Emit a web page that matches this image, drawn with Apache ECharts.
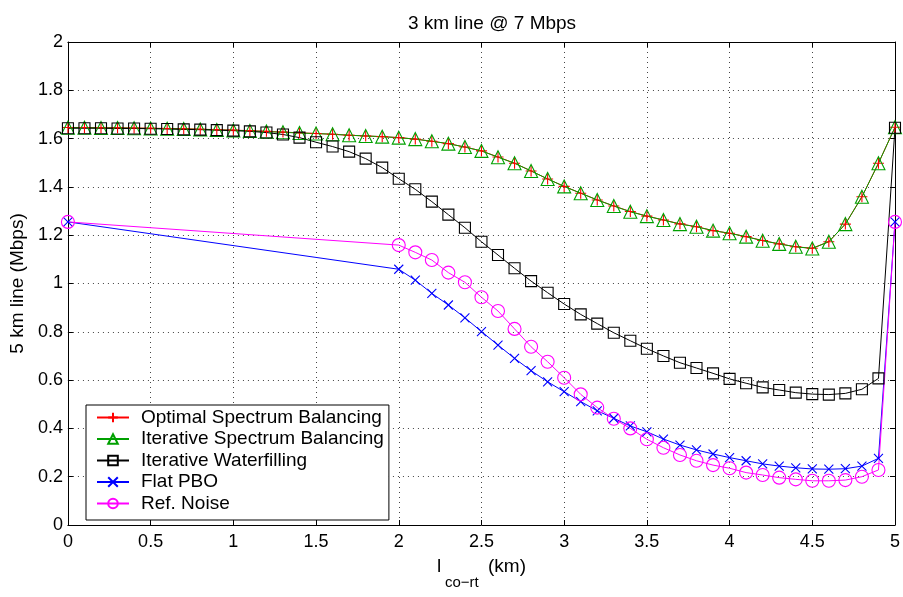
<!DOCTYPE html>
<html>
<head>
<meta charset="utf-8">
<script src="https://cdn.jsdelivr.net/npm/echarts@6/dist/echarts.min.js"></script>
<style>
  html, body { margin: 0; padding: 0; background: #fff; }
  #chart { width: 903px; height: 597px; }
</style>
</head>
<body>
<div id="chart"></div>
<script>
// x positions (km)
var xFull = [0, 0.1, 0.2, 0.3, 0.4, 0.5, 0.6, 0.7, 0.8, 0.9, 1.0, 1.1, 1.2, 1.3, 1.4, 1.5, 1.6, 1.7, 1.8, 1.9,
    2.0, 2.1, 2.2, 2.3, 2.4, 2.5, 2.6, 2.7, 2.8, 2.9, 3.0, 3.1, 3.2, 3.3, 3.4, 3.5, 3.6, 3.7, 3.8, 3.9,
    4.0, 4.1, 4.2, 4.3, 4.4, 4.5, 4.6, 4.7, 4.8, 4.9, 5.0];
var xPart = [0, 2.0, 2.1, 2.2, 2.3, 2.4, 2.5, 2.6, 2.7, 2.8, 2.9, 3.0, 3.1, 3.2, 3.3, 3.4, 3.5, 3.6, 3.7, 3.8, 3.9,
    4.0, 4.1, 4.2, 4.3, 4.4, 4.5, 4.6, 4.7, 4.8, 4.9, 5.0];

// 5 km line rate (Mbps)
var osb = [1.646, 1.646, 1.645, 1.645, 1.644, 1.643, 1.642, 1.641, 1.639, 1.637, 1.635, 1.633, 1.630, 1.627, 1.624, 1.621, 1.618, 1.614, 1.611, 1.608,
    1.604, 1.598, 1.589, 1.579, 1.565, 1.549, 1.524, 1.498, 1.466, 1.433, 1.402, 1.374, 1.346, 1.321, 1.298, 1.279, 1.263, 1.247, 1.235, 1.219,
    1.208, 1.194, 1.178, 1.164, 1.152, 1.146, 1.173, 1.246, 1.359, 1.498, 1.647];
var isb = [1.645, 1.645, 1.644, 1.644, 1.643, 1.642, 1.641, 1.640, 1.638, 1.636, 1.634, 1.632, 1.629, 1.626, 1.623, 1.621, 1.618, 1.614, 1.611, 1.608,
    1.604, 1.598, 1.589, 1.579, 1.565, 1.549, 1.523, 1.498, 1.466, 1.433, 1.402, 1.374, 1.346, 1.321, 1.297, 1.279, 1.263, 1.246, 1.235, 1.219,
    1.208, 1.194, 1.177, 1.164, 1.152, 1.145, 1.173, 1.246, 1.359, 1.498, 1.647];
var iw = [1.643, 1.643, 1.643, 1.642, 1.642, 1.641, 1.640, 1.638, 1.637, 1.635, 1.633, 1.630, 1.625, 1.617, 1.604, 1.585, 1.567, 1.546, 1.517, 1.480,
    1.434, 1.390, 1.339, 1.285, 1.231, 1.173, 1.118, 1.063, 1.010, 0.962, 0.915, 0.872, 0.834, 0.796, 0.763, 0.730, 0.700, 0.672, 0.650, 0.628,
    0.605, 0.587, 0.570, 0.559, 0.548, 0.542, 0.540, 0.545, 0.562, 0.607, 1.645];
var flatPbo = [1.255, 1.059, 1.014, 0.959, 0.911, 0.858, 0.801, 0.745, 0.690, 0.639, 0.593, 0.552, 0.511, 0.473, 0.442, 0.410, 0.386, 0.356, 0.331, 0.311, 0.294,
    0.279, 0.266, 0.253, 0.244, 0.237, 0.232, 0.231, 0.233, 0.244, 0.276, 1.255];
var refNoise = [1.255, 1.159, 1.129, 1.097, 1.045, 1.005, 0.943, 0.886, 0.812, 0.738, 0.676, 0.610, 0.541, 0.486, 0.440, 0.400, 0.355, 0.320, 0.290, 0.266, 0.248,
    0.235, 0.217, 0.207, 0.196, 0.189, 0.183, 0.183, 0.186, 0.200, 0.228, 1.255];

var names = ['Optimal Spectrum Balancing', 'Iterative Spectrum Balancing', 'Iterative Waterfilling', 'Flat PBO', 'Ref. Noise'];

function pairs(xs, ys) {
    var out = [];
    for (var i = 0; i < xs.length; i++) out.push([xs[i], ys[i]]);
    return out;
}

var plusPath = 'path://M5,0L5,10M0,5L10,5';
var crossPath = 'path://M0,0L10,10M10,0L0,10';

function mkSeries(name, data, color, symbol, size) {
    return {
        name: name,
        type: 'line',
        data: data,
        symbol: symbol,
        symbolSize: size,
        showAllSymbol: true,
        lineStyle: { color: color, width: 1 },
        itemStyle: { color: 'rgba(0,0,0,0)', borderColor: color, borderWidth: 1.1 },
        emphasis: { disabled: true }
    };
}

var chart = echarts.init(document.getElementById('chart'));
var font = 'Liberation Sans, Arial, sans-serif';

var option = {
    animation: false,
    backgroundColor: '#fff',
    textStyle: { fontFamily: font },
    title: {
        text: '3 km line @ 7 Mbps',
        left: 487, top: 9, textAlign: 'center',
        textStyle: { fontSize: 19, fontWeight: 'normal', color: '#000', fontFamily: font }
    },
    grid: { left: 67, right: 5, top: 42, bottom: 72 },
    legend: {
        data: names,
        orient: 'vertical',
        left: 86, top: 405,
        padding: [3, 5, 7, 10],
        itemGap: 2.5,
        itemWidth: 32,
        itemHeight: 12,
        backgroundColor: '#fff',
        borderColor: '#000',
        borderWidth: 1,
        borderRadius: 0,
        textStyle: { fontSize: 19, color: '#000', fontFamily: font, padding: [0, 0, 0, 7] }
    },
    xAxis: [{
        type: 'value', min: 0, max: 5, interval: 0.5,
        axisLine: { onZero: false, lineStyle: { color: '#000', width: 1 } },
        axisTick: { inside: true, length: 5, lineStyle: { color: '#000' } },
        axisLabel: { color: '#000', fontSize: 18, margin: 8, fontFamily: font },
        splitLine: { show: true, lineStyle: { color: '#444', type: [1, 4], width: 1 } }
    }, {
        type: 'value', min: 0, max: 5, interval: 0.5, position: 'top',
        axisLine: { onZero: false, lineStyle: { color: '#000', width: 1 } },
        axisTick: { inside: true, length: 5, lineStyle: { color: '#000' } },
        axisLabel: { show: false }, splitLine: { show: false }
    }],
    yAxis: [{
        type: 'value', min: 0, max: 2, interval: 0.2,
        name: '5 km line (Mbps)', nameLocation: 'middle', nameGap: 38, nameRotate: 90,
        nameTextStyle: { color: '#000', fontSize: 19, fontFamily: font },
        axisLine: { show: true, onZero: false, lineStyle: { color: '#000', width: 1 } },
        axisTick: { show: true, inside: true, length: 5, lineStyle: { color: '#000' } },
        axisLabel: { color: '#000', fontSize: 18, margin: 5, fontFamily: font },
        splitLine: { show: true, lineStyle: { color: '#444', type: [1, 4], width: 1 } }
    }, {
        type: 'value', min: 0, max: 2, interval: 0.2, position: 'right',
        axisLine: { show: true, onZero: false, lineStyle: { color: '#000', width: 1 } },
        axisTick: { show: true, inside: true, length: 5, lineStyle: { color: '#000' } },
        axisLabel: { show: false }, splitLine: { show: false }
    }],
    graphic: [
        { type: 'text', left: 437, top: 557, style: { text: 'l', fontSize: 19, fill: '#000', fontFamily: font } },
        { type: 'text', left: 445, top: 575, style: { text: 'co\u2212rt', fontSize: 15, fill: '#000', fontFamily: font } },
        { type: 'text', left: 488, top: 557, style: { text: '(km)', fontSize: 19, fill: '#000', fontFamily: font } }
    ],
    series: [
        mkSeries(names[0], pairs(xFull, osb), '#ff0000', plusPath, 11),
        mkSeries(names[1], pairs(xFull, isb), '#00a000', 'triangle', 13),
        mkSeries(names[2], pairs(xFull, iw), '#000000', 'rect', 11),
        mkSeries(names[3], pairs(xPart, flatPbo), '#0000ff', crossPath, 9),
        mkSeries(names[4], pairs(xPart, refNoise), '#ff00ff', 'circle', 13)
    ]
};
chart.setOption(option);
</script>
</body>
</html>
